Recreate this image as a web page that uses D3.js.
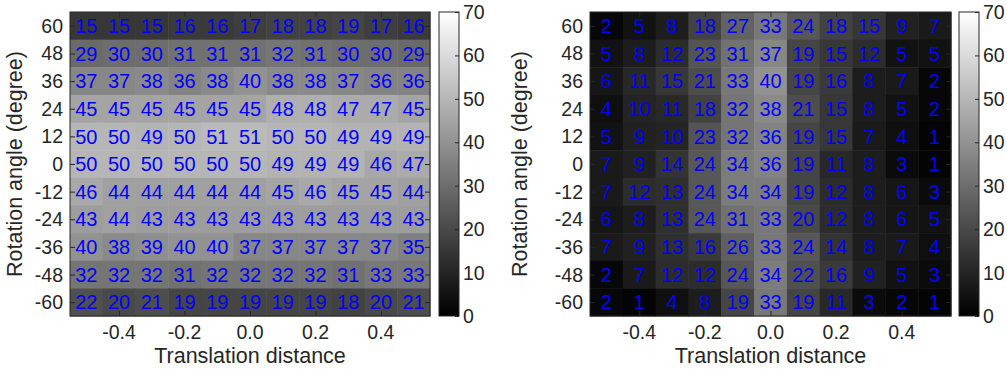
<!DOCTYPE html>
<html>
<head>
<meta charset="utf-8">
<script src="https://cdn.jsdelivr.net/npm/d3@7"></script>
<style>
  body { margin: 0; background: #fff; }
  svg text { font-family: "Liberation Sans", Arial, sans-serif; }
</style>
</head>
<body>
<svg id="chart" width="1007" height="370"></svg>
<script>
// translation distance (columns) and rotation angle (rows, top to bottom)
const translations = [-0.5, -0.4, -0.3, -0.2, -0.1, 0.0, 0.1, 0.2, 0.3, 0.4, 0.5];
const rotations = [60, 48, 36, 24, 12, 0, -12, -24, -36, -48, -60];
const xTicks = [-0.4, -0.2, 0.0, 0.2, 0.4];
const yTicks = [60, 48, 36, 24, 12, 0, -12, -24, -36, -48, -60];
const colorTicks = [0, 10, 20, 30, 40, 50, 60, 70];

const leftValues = [
  [15, 15, 15, 16, 16, 17, 18, 18, 19, 17, 16],
  [29, 30, 30, 31, 31, 31, 32, 31, 30, 30, 29],
  [37, 37, 38, 36, 38, 40, 38, 38, 37, 36, 36],
  [45, 45, 45, 45, 45, 45, 48, 48, 47, 47, 45],
  [50, 50, 49, 50, 51, 51, 50, 50, 49, 49, 49],
  [50, 50, 50, 50, 50, 50, 49, 49, 49, 46, 47],
  [46, 44, 44, 44, 44, 44, 45, 46, 45, 45, 44],
  [43, 44, 43, 43, 43, 43, 43, 43, 43, 43, 43],
  [40, 38, 39, 40, 40, 37, 37, 37, 37, 37, 35],
  [32, 32, 32, 31, 32, 32, 32, 32, 31, 33, 33],
  [22, 20, 21, 19, 19, 19, 19, 19, 18, 20, 21]
];

const rightValues = [
  [2, 5, 8, 18, 27, 33, 24, 18, 15, 9, 7],
  [5, 8, 12, 23, 31, 37, 19, 15, 12, 5, 5],
  [6, 11, 15, 21, 33, 40, 19, 16, 8, 7, 2],
  [4, 10, 11, 18, 32, 38, 21, 15, 8, 5, 2],
  [5, 9, 10, 23, 32, 36, 19, 15, 7, 4, 1],
  [7, 9, 14, 24, 34, 36, 19, 11, 8, 3, 1],
  [7, 12, 13, 24, 34, 34, 19, 12, 8, 6, 3],
  [6, 8, 13, 24, 31, 33, 20, 12, 8, 6, 5],
  [7, 9, 13, 16, 26, 33, 24, 14, 8, 7, 4],
  [2, 7, 12, 12, 24, 34, 22, 16, 9, 5, 3],
  [2, 1, 4, 8, 19, 33, 19, 11, 3, 2, 1]
];

const svg = d3.select("#chart");
const ink = "#262626";
const color = d3.scaleLinear().domain([0, 70]).range(["#000", "#fff"]).clamp(true);

function drawPanel(values, left, right, top, bottom, cbLeft, labelX) {
  const g = svg.append("g");
  const x = d3.scaleLinear().domain([-0.55, 0.55]).range([left, right]);
  const y = d3.scaleLinear().domain([-66, 66]).range([bottom, top]);

  const cells = [];
  values.forEach((row, i) => row.forEach((v, j) => {
    cells.push({ tx: translations[j], ry: rotations[i], v: v });
  }));

  g.selectAll("rect.cell").data(cells).join("rect")
    .attr("class", "cell")
    .attr("x", d => x(d.tx - 0.05))
    .attr("y", d => y(d.ry + 6))
    .attr("width", x(0.05) - x(-0.05) + 0.5)
    .attr("height", y(-6) - y(6) + 0.5)
    .attr("fill", d => color(d.v));

  g.selectAll("text.val").data(cells).join("text")
    .attr("class", "val")
    .attr("x", d => x(d.tx))
    .attr("y", d => y(d.ry))
    .attr("dy", "0.36em")
    .attr("text-anchor", "middle")
    .attr("font-size", 20)
    .attr("fill", "#0000ff")
    .text(d => d.v);

  // axes, ticks pointing inward
  const axL = g.append("g").attr("transform", `translate(${left},0)`)
    .call(d3.axisRight(y).tickValues(yTicks).tickSize(5).tickFormat(""));
  const axR = g.append("g").attr("transform", `translate(${right},0)`)
    .call(d3.axisLeft(y).tickValues(yTicks).tickSize(5).tickFormat(""));
  const axB = g.append("g").attr("transform", `translate(0,${bottom})`)
    .call(d3.axisTop(x).tickValues(xTicks).tickSize(5).tickFormat(""));
  const axT = g.append("g").attr("transform", `translate(0,${top})`)
    .call(d3.axisBottom(x).tickValues(xTicks).tickSize(5).tickFormat(""));
  [axL, axR, axB, axT].forEach(a => {
    a.select(".domain").remove();
    a.selectAll("line").attr("stroke", ink);
  });

  g.append("rect")
    .attr("x", left).attr("y", top)
    .attr("width", right - left).attr("height", bottom - top)
    .attr("fill", "none").attr("stroke", ink).attr("stroke-width", 1);

  g.selectAll("text.ytick").data(yTicks).join("text")
    .attr("class", "ytick")
    .attr("x", left - 7)
    .attr("y", d => y(d))
    .attr("dy", "0.36em")
    .attr("text-anchor", "end")
    .attr("font-size", 19.5)
    .attr("fill", ink)
    .text(d => d);

  g.selectAll("text.xtick").data(xTicks).join("text")
    .attr("class", "xtick")
    .attr("x", d => x(d))
    .attr("y", bottom + 23)
    .attr("text-anchor", "middle")
    .attr("font-size", 19.5)
    .attr("fill", ink)
    .text(d => d.toFixed(1));

  g.append("text")
    .attr("x", (left + right) / 2)
    .attr("y", bottom + 47)
    .attr("text-anchor", "middle")
    .attr("font-size", 21.5)
    .attr("fill", ink)
    .text("Translation distance");

  g.append("text")
    .attr("transform", `translate(${labelX},${(top + bottom) / 2}) rotate(-90)`)
    .attr("text-anchor", "middle")
    .attr("font-size", 21.5)
    .attr("fill", ink)
    .text("Rotation angle (degree)");

  // colorbar
  const cbW = 20;
  const cy = d3.scaleLinear().domain([0, 70]).range([bottom, top]);
  const gradId = "grad" + Math.round(left);
  const grad = svg.append("defs").append("linearGradient")
    .attr("id", gradId).attr("x1", 0).attr("y1", 1).attr("x2", 0).attr("y2", 0);
  grad.append("stop").attr("offset", 0).attr("stop-color", color(0));
  grad.append("stop").attr("offset", 1).attr("stop-color", color(70));

  g.append("rect")
    .attr("x", cbLeft).attr("y", top)
    .attr("width", cbW).attr("height", bottom - top)
    .attr("fill", `url(#${gradId})`)
    .attr("stroke", ink).attr("stroke-width", 1);

  const cbAx = g.append("g").attr("transform", `translate(${cbLeft + cbW},0)`)
    .call(d3.axisLeft(cy).tickValues(colorTicks).tickSize(4).tickFormat(""));
  cbAx.select(".domain").remove();
  cbAx.selectAll("line").attr("stroke", ink);

  g.selectAll("text.ctick").data(colorTicks).join("text")
    .attr("class", "ctick")
    .attr("x", cbLeft + cbW + 4)
    .attr("y", d => cy(d))
    .attr("dy", "0.36em")
    .attr("text-anchor", "start")
    .attr("font-size", 19.5)
    .attr("fill", ink)
    .text(d => d);
}

drawPanel(leftValues, 70, 430, 12, 316, 439, 22);
drawPanel(rightValues, 590, 951, 12, 316, 959, 527);
</script>
</body>
</html>
